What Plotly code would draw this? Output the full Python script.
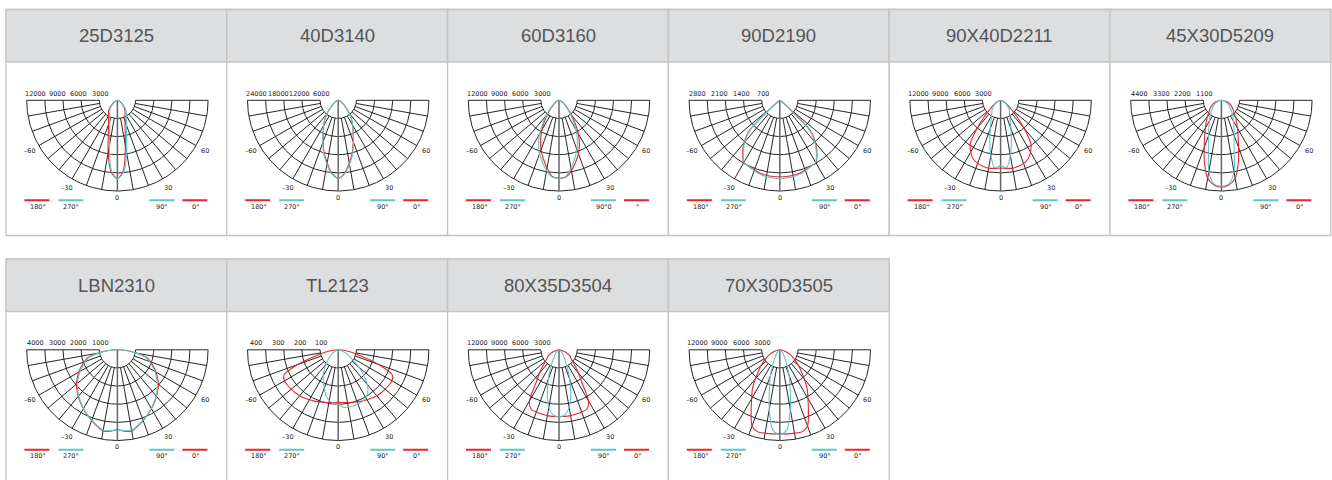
import numpy as np
import plotly.graph_objects as go

W, H = 1332, 480

# ---------------- data ----------------
TITLES = ["25D3125", "40D3140", "60D3160", "90D2190", "90X40D2211", "45X30D5209",
          "LBN2310", "TL2123", "80X35D3504", "70X30D3505"]
RING_STEP = [3000, 6000, 3000, 700, 3000, 1100, 1000, 100, 3000, 3000]
RING_LABELS = [
    ["12000", "9000", "6000", "3000"],
    ["24000", "18000", "12000", "6000"],
    ["12000", "9000", "6000", "3000"],
    ["2800", "2100", "1400", "700"],
    ["12000", "9000", "6000", "3000"],
    ["4400", "3300", "2200", "1100"],
    ["4000", "3000", "2000", "1000"],
    ["400", "300", "200", "100"],
    ["12000", "9000", "6000", "3000"],
    ["12000", "9000", "6000", "3000"],
]
ANGLE_TICKS = [-60, -30, 0, 30, 60]
ANGLE_TEXT = ["\u201360", "\u201330", "0", "30", "60"]
LEGEND_TEXT = [["180°", "270°", "90°", "0°"] for _ in range(10)]
LEGEND_TEXT[2] = ["180°", "270°", "90°0", "°"]

GRID_ANGLES = list(range(-90, 91, 10))
ANGLES = list(range(0, 95, 5))   # gamma angles of the intensity tables (cd)

C1_WIDE = [12950, 11900, 8800, 5800, 4300, 3500, 2950, 2550, 2250, 1750, 1300, 950, 700, 500, 350, 230, 140, 60, 0]
C1_NARROW = [12950, 11600, 7600, 4950, 3700, 3000, 2550, 2200, 1900, 1500, 1100, 820, 600, 430, 300, 200, 120, 50, 0]
C2_RED = [25800, 24200, 21000, 18000, 14500, 11700, 9500, 7700, 5800, 3900, 2700, 1800, 1200, 800, 500, 300, 150, 60, 0]
C2_CYAN = [25800, 24400, 21500, 18400, 14800, 11900, 9600, 7700, 5800, 3900, 2700, 1800, 1200, 800, 500, 300, 150, 60, 0]
C3_WIDE = [12900, 12750, 11800, 10600, 9400, 8000, 6400, 4700, 3300, 2200, 1450, 1000, 700, 450, 300, 180, 100, 40, 0]
C3_NARROW = [12900, 12650, 11400, 10000, 8700, 7200, 5600, 4100, 2900, 2000, 1350, 950, 650, 420, 280, 170, 90, 35, 0]
C4_RED = [2950, 2950, 2940, 2910, 2870, 2820, 2780, 2500, 2150, 1700, 350, 80, 30, 15, 8, 5, 3, 1, 0]
C4_CYAN = [3020, 3010, 2990, 2950, 2890, 2820, 2760, 2460, 2100, 1620, 300, 70, 25, 12, 6, 4, 2, 1, 0]
C5_RED = [11200, 11300, 11400, 11300, 11100, 10700, 9900, 8700, 6000, 3800, 2300, 1600, 1000, 650, 400, 250, 130, 50, 0]
C5_CYAN = [10800, 11200, 9300, 6900, 5000, 3700, 3000, 2550, 2250, 1900, 1550, 1150, 850, 600, 400, 250, 130, 50, 0]
C6_RED = [5260, 5150, 4800, 3950, 3050, 2400, 1950, 1600, 1350, 1100, 950, 820, 700, 600, 470, 350, 220, 100, 0]
C6_CYAN = [5215, 5100, 4400, 2970, 2250, 1800, 1450, 1200, 1000, 850, 700, 580, 470, 380, 290, 200, 120, 50, 0]
C7_RED = [4400, 4500, 4550, 4350, 4150, 3950, 3750, 3550, 3350, 3150, 2950, 2700, 2450, 2200, 1950, 1700, 1100, 580, 0]
C7_CYAN = [4420, 4480, 4500, 4330, 4130, 3930, 3730, 3520, 3320, 3100, 2880, 2620, 2380, 2120, 1880, 1620, 1050, 550, 0]
C8_RED = [290, 292, 295, 300, 305, 312, 318, 325, 330, 335, 338, 341, 342, 330, 240, 130, 70, 30, 0]
C8_CYAN_90 = [300, 318, 322, 321, 318, 313, 305, 285, 250, 200, 150, 100, 70, 50, 30, 20, 10, 5, 0]
C8_CYAN_270 = [300, 295, 285, 260, 225, 195, 165, 135, 105, 80, 60, 45, 30, 20, 12, 8, 5, 2, 0]
C9_RED = [11030, 11050, 11050, 11000, 10950, 10850, 9750, 6600, 5000, 3750, 2900, 2400, 2100, 1600, 1100, 700, 350, 120, 0]
C9_CYAN = [11130, 10800, 9700, 7500, 5200, 3300, 2100, 1400, 950, 700, 500, 380, 250, 170, 100, 60, 30, 10, 0]
C10_RED = [13900, 13950, 14000, 14050, 13400, 11200, 9300, 7900, 6300, 5000, 4000, 3200, 2500, 1900, 1300, 800, 400, 150, 0]
C10_CYAN = [14050, 13300, 10000, 6600, 4500, 2700, 1800, 1200, 850, 600, 450, 350, 250, 180, 120, 80, 40, 15, 0]

# (red C0 side, red C180 side, cyan C90 side, cyan C270 side)
CURVES = [
    (C1_NARROW, C1_WIDE, C1_WIDE, C1_NARROW),
    (C2_RED, C2_RED, C2_CYAN, C2_CYAN),
    (C3_WIDE, C3_NARROW, C3_NARROW, C3_WIDE),
    (C4_RED, C4_RED, C4_CYAN, C4_CYAN),
    (C5_RED, C5_RED, C5_CYAN, C5_CYAN),
    (C6_RED, C6_RED, C6_CYAN, C6_CYAN),
    (C7_RED, C7_RED, C7_CYAN, C7_CYAN),
    (C8_RED, C8_RED, C8_CYAN_90, C8_CYAN_270),
    (C9_RED, C9_RED, C9_CYAN, C9_CYAN),
    (C10_RED, C10_RED, C10_CYAN, C10_CYAN),
]

# ---------------- style / layout ----------------
RED = "#e8262b"
CYAN = "#5ec6ca"
GRID = "#1a1a1a"
BORDER = "#c4c4c4"
HEADER_BG = "#dddee0"
SMALL_FONT = dict(family="DejaVu Sans", size=6.5, color="#222222")

CARD_W = 220.8
LEFT0 = 6.0
ROW_TOP = [9.5, 259.0]
HEADER_H = 52.5
ROW_BOTTOM = [235.5, 480.0]
CENTER_DY = 38.3
CENTER_DX = 1.0
S = 90.7 / 5.0   # pixels per ring step

fig = go.Figure()
shapes = []
annotations = []


def px_x(px):
    return px / W


def px_y(py):
    return 1 - py / H


def polar_xy(r, theta_deg):
    t = np.radians(np.asarray(theta_deg, dtype=float))
    r = np.asarray(r, dtype=float)
    return r * np.sin(t), -r * np.cos(t)


for k in range(10):
    row, col = divmod(k, 6)
    left = LEFT0 + col * CARD_W
    top = ROW_TOP[row]
    body_top = top + HEADER_H
    bottom = ROW_BOTTOM[row]
    cy = body_top + CENTER_DY
    ax = "" if k == 0 else str(k + 1)
    xname, yname = "x" + ax, "y" + ax

    fig.layout["xaxis" + ax] = dict(
        domain=[px_x(left), px_x(left + CARD_W)],
        range=[-(CARD_W / 2 + CENTER_DX) / S, (CARD_W / 2 - CENTER_DX) / S],
        visible=False, fixedrange=True, anchor=yname)
    fig.layout["yaxis" + ax] = dict(
        domain=[max(0, px_y(bottom)), px_y(body_top)],
        range=[-(bottom - cy) / S, (cy - body_top) / S],
        visible=False, fixedrange=True, anchor=xname)

    # card frame and header
    card_bottom = px_y(bottom) if row == 0 else -0.05
    shapes.append(dict(type="rect", xref="paper", yref="paper",
                       x0=px_x(left), x1=px_x(left + CARD_W), y0=card_bottom, y1=px_y(top),
                       line=dict(color=BORDER, width=1.3), fillcolor="white", layer="below"))
    shapes.append(dict(type="rect", xref="paper", yref="paper",
                       x0=px_x(left), x1=px_x(left + CARD_W), y0=px_y(body_top), y1=px_y(top),
                       line=dict(color=BORDER, width=1.3), fillcolor=HEADER_BG, layer="below"))
    annotations.append(dict(xref="paper", yref="paper", x=px_x(left + CARD_W / 2),
                            y=px_y(top + HEADER_H / 2), text=TITLES[k], showarrow=False,
                            font=dict(family="Liberation Sans", size=18.5, color="#555555"),
                            xanchor="center", yanchor="middle"))

    # polar grid (normalised to ring steps)
    gx, gy = [], []
    arc = np.linspace(-90, 90, 181)
    for ring in range(1, 6):
        x, y = polar_xy(np.full_like(arc, ring), arc)
        gx += list(x) + [None]
        gy += list(y) + [None]
    for a in GRID_ANGLES:
        if a == 0:
            continue
        x, y = polar_xy([1, 5], [a, a])
        gx += list(x) + [None]
        gy += list(y) + [None]
    fig.add_trace(go.Scatter(x=gx, y=gy, mode="lines", xaxis=xname, yaxis=yname,
                             line=dict(color=GRID, width=0.95), hoverinfo="skip", showlegend=False))
    x, y = polar_xy([0, 5], [0, 0])
    fig.add_trace(go.Scatter(x=x, y=y, mode="lines", xaxis=xname, yaxis=yname,
                             line=dict(color="#666666", width=1.5), hoverinfo="skip", showlegend=False))

    # intensity curves
    step = RING_STEP[k]
    red0, red180, cy90, cy270 = CURVES[k]
    ang = np.array(ANGLES, dtype=float)
    for right, leftside, color in ((red0, red180, RED), (cy90, cy270, CYAN)):
        th = np.concatenate([-ang[::-1], ang[1:]])
        rr = np.concatenate([np.array(leftside[::-1], float), np.array(right[1:], float)]) / step
        x, y = polar_xy(rr, th)
        fig.add_trace(go.Scatter(x=x, y=y, mode="lines", xaxis=xname, yaxis=yname,
                                 line=dict(color=color, width=1.1, shape="spline", smoothing=0.8),
                                 hoverinfo="skip", showlegend=False))

    # ring value labels
    for lab, dx in zip(RING_LABELS[k], [-82, -60, -38.5, -17]):
        annotations.append(dict(xref=xname, yref=yname, x=dx / S, y=6.7 / S, text=lab,
                                showarrow=False, font=SMALL_FONT, xanchor="center", yanchor="middle"))
    # angle labels
    for a, t in zip(ANGLE_TICKS, ANGLE_TEXT):
        R = (97.3 if a == 0 else 101) / S
        x, y = polar_xy(R, a)
        annotations.append(dict(xref=xname, yref=yname, x=float(x), y=float(y), text=t,
                                showarrow=False, font=SMALL_FONT, xanchor="center", yanchor="middle"))
    # legend keys
    for (x0, x1), xc, col_, t in zip([(-93, -68), (-59, -34), (32, 57), (65, 90)],
                                     [-79, -46, 45, 78], [RED, CYAN, CYAN, RED], LEGEND_TEXT[k]):
        shapes.append(dict(type="line", xref=xname, yref=yname, x0=x0 / S, x1=x1 / S,
                           y0=-100 / S, y1=-100 / S, line=dict(color=col_, width=2)))
        annotations.append(dict(xref=xname, yref=yname, x=xc / S, y=-106.5 / S, text=t,
                                showarrow=False, font=SMALL_FONT, xanchor="center", yanchor="middle"))

fig.update_layout(width=W, height=H, margin=dict(l=0, r=0, t=0, b=0),
                  paper_bgcolor="white", plot_bgcolor="rgba(0,0,0,0)",
                  shapes=shapes, annotations=annotations, showlegend=False)
# remove the default 8px page margin so the figure fills the window exactly
fig.write_html("out.html", config={"displayModeBar": False},
               post_script="document.body.style.margin='0px';document.body.style.overflow='hidden';")
